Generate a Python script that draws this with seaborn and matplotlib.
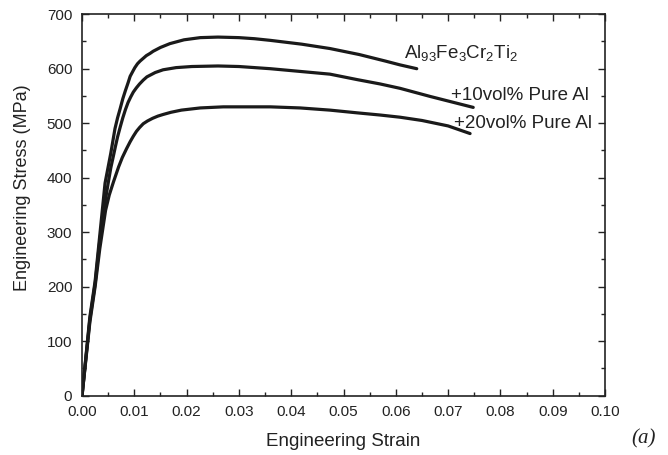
import numpy as np
import pandas as pd
import matplotlib
matplotlib.use("Agg")
import matplotlib.pyplot as plt
import seaborn as sns
from matplotlib.ticker import MultipleLocator

# Curves (strain, stress in MPa)
strain_base = [0, 0.0015, 0.0025, 0.0034, 0.0044, 0.0050, 0.0055, 0.0063, 0.0068, 0.0073,
               0.0078, 0.0083, 0.0088, 0.0092, 0.0097, 0.0101, 0.0106, 0.0111, 0.0117, 0.0123,
               0.0130, 0.0136, 0.0150, 0.0168, 0.0195, 0.0226, 0.026, 0.030, 0.033, 0.036,
               0.042, 0.0474, 0.0530, 0.0580, 0.0608, 0.064]
stress_base = [0, 145, 210, 295, 390, 420, 445, 490, 510, 527,
               545, 560, 574, 586, 595, 602, 609, 614, 619, 624,
               628, 632, 639, 646, 653, 657, 658, 657, 655, 652,
               645, 637, 626, 614, 607, 600]

strain_10 = [0, 0.0015, 0.0025, 0.0034, 0.0044, 0.0050, 0.0055, 0.0060, 0.0064, 0.0068,
             0.0073, 0.0078, 0.0083, 0.0088, 0.0093, 0.0098, 0.0104, 0.0110, 0.0117, 0.0124,
             0.0132, 0.0140, 0.0155, 0.0180, 0.0210, 0.026, 0.030, 0.036, 0.0417, 0.0474,
             0.0526, 0.0570, 0.0608, 0.0666, 0.0748]
stress_10 = [0, 140, 205, 285, 355, 390, 418, 440, 458, 475,
             493, 510, 525, 538, 548, 557, 565, 572, 579, 585,
             589, 593, 598, 602, 604, 605, 604, 600, 595, 590,
             580, 572, 564, 549, 529]

strain_20 = [0, 0.0015, 0.0025, 0.0034, 0.0045, 0.0052, 0.0060, 0.0065, 0.0070, 0.0077,
             0.0085, 0.0092, 0.0098, 0.0104, 0.0110, 0.0117, 0.0125, 0.0135, 0.0145, 0.0155,
             0.0170, 0.0190, 0.0226, 0.027, 0.0302, 0.036, 0.0417, 0.0474, 0.0526, 0.0570,
             0.0608, 0.065, 0.070, 0.0742]
stress_20 = [0, 135, 200, 270, 340, 368, 392, 406, 420, 437,
             453, 466, 476, 485, 492, 499, 504, 509, 513, 516,
             520, 524, 528, 530, 530, 530, 528, 524, 519, 515,
             511, 505, 495, 481]

labels = [r"Al$_{93}$Fe$_3$Cr$_2$Ti$_2$", "+10vol% Pure Al", "+20vol% Pure Al"]

sns.set_style("ticks")
plt.rcParams['font.family'] = ['Liberation Sans', 'DejaVu Sans']
plt.rcParams['mathtext.fontset'] = 'custom'
plt.rcParams['mathtext.rm'] = 'Liberation Sans'
plt.rcParams['mathtext.it'] = 'Liberation Sans'

fig = plt.figure(figsize=(6.68, 4.55), dpi=100)
ax = fig.add_axes([0.1228, 0.1303, 0.7829, 0.8385])

for xs, ys in [(strain_base, stress_base), (strain_10, stress_10), (strain_20, stress_20)]:
    df = pd.DataFrame({'strain': xs, 'stress': ys})
    sns.lineplot(data=df, x='strain', y='stress', color='#1a1a1a', lw=2.3,
                 sort=False, estimator=None, ax=ax)

ax.set_xlim(0, 0.10)
ax.set_ylim(0, 700)
ax.xaxis.set_major_locator(MultipleLocator(0.01))
ax.xaxis.set_minor_locator(MultipleLocator(0.005))
ax.yaxis.set_major_locator(MultipleLocator(100))
ax.yaxis.set_minor_locator(MultipleLocator(50))
ax.xaxis.set_major_formatter(matplotlib.ticker.FormatStrFormatter('%.2f'))
ax.tick_params(which='both', direction='in', top=True, right=True, colors='#222222',
               labelsize=11, width=1)
ax.tick_params(which='major', length=5, pad=7)
ax.tick_params(which='minor', length=3)
for s in ax.spines.values():
    s.set_linewidth(1.2)
    s.set_color('#222222')

ax.set_xlabel("Engineering Strain", fontsize=13.5, color='#222222')
ax.set_ylabel("Engineering Stress (MPa)", fontsize=13, color='#222222')
ax.xaxis.set_label_coords(0.5, -0.097)
ax.yaxis.set_label_coords(-0.098, 0.545)

ax.text(0.0615, 628, labels[0], fontsize=13.5, color='#222222', ha='left', va='center')
ax.text(0.0705, 550, labels[1], fontsize=13.5, color='#222222', ha='left', va='center')
ax.text(0.0711, 500, labels[2], fontsize=13.5, color='#222222', ha='left', va='center')

fig.text(0.963, 0.035, "(a)", fontsize=15, style='italic', family='Liberation Serif',
         color='#222222', ha='center', va='center')

fig.savefig("out.png", dpi=100)
